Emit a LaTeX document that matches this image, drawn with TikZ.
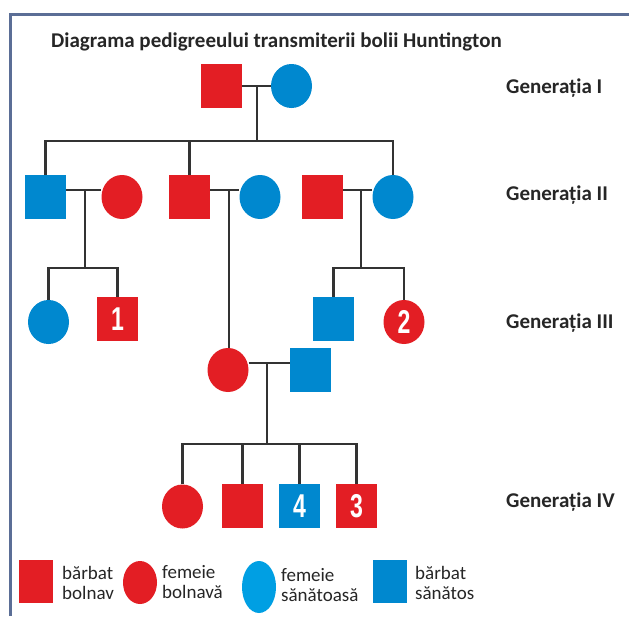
\documentclass[tikz,border=0pt]{standalone}
\usepackage{fontspec}
\setmainfont{Carlito}
\newfontfamily\numfont[FakeStretch=0.7]{Liberation Sans Bold}
\usetikzlibrary{shapes.geometric}
\definecolor{pred}{HTML}{E31E24}
\definecolor{pblue}{HTML}{0088CF}
\definecolor{lblue}{HTML}{009FE3}
\definecolor{frame}{HTML}{5B6E96}
\definecolor{ink}{HTML}{262626}
\definecolor{lnk}{HTML}{333333}
\tikzset{
  msq/.style={rectangle,minimum width=41pt,minimum height=44pt,inner sep=0pt,draw=none},
  fci/.style={ellipse,minimum width=41pt,minimum height=44pt,inner sep=0pt,draw=none},
  lsq/.style={rectangle,minimum width=34pt,minimum height=43pt,inner sep=0pt,draw=none},
  lci/.style={ellipse,minimum width=34pt,minimum height=43pt,inner sep=0pt,draw=none},
  numtxt/.style={text=white,font=\numfont\fontsize{33}{33}\selectfont},
  link/.style={draw=lnk,line width=2.5pt},
  genlab/.style={anchor=west,inner sep=0pt,text=ink,font=\bfseries\fontsize{21}{24}\selectfont},
  legtxt/.style={anchor=west,inner sep=0pt,align=left,text=ink,font=\fontsize{19}{20}\selectfont}
}
\begin{document}
\begin{tikzpicture}[x=1pt,y=-1pt]
\useasboundingbox (0,0) rectangle (629,616);
\fill[white] (0,0) rectangle (629,616);
\draw[frame,line width=3.5pt] (10.3,616) -- (10.3,14.3) -- (629,14.3);
\node[anchor=west,inner sep=0pt,text=ink,font=\bfseries\fontsize{21}{24}\selectfont] (title) at (51,42) {Diagrama pedigreeului transmiterii bolii Huntington};
% Generation I
\node[msq,fill=pred] (g1m) at (221.5,86) {};
\node[fci,fill=pblue] (g1f) at (291.5,86) {};
% Generation II
\node[msq,fill=pblue] (a1) at (45.5,197) {};
\node[fci,fill=pred] (a2) at (122,197) {};
\node[msq,fill=pred] (b1) at (189.5,197) {};
\node[fci,fill=pblue] (b2) at (260,197) {};
\node[msq,fill=pred] (c1) at (322.5,197) {};
\node[fci,fill=pblue] (c2) at (393,197) {};
% Generation III
\node[fci,fill=pblue] (d1) at (48.5,322) {};
\node[msq,fill=pred,numtxt] (d2) at (117.5,319) {1};
\node[msq,fill=pblue] (e1) at (333.5,319) {};
\node[fci,fill=pred,numtxt] (e2) at (404,322) {2};
\node[fci,fill=pred] (m1) at (228,370) {};
\node[msq,fill=pblue] (m2) at (310.5,370) {};
% Generation IV
\node[fci,fill=pred] (f1) at (182.5,506.5) {};
\node[msq,fill=pred] (f2) at (242.5,506) {};
\node[msq,fill=pblue,numtxt] (f3) at (299.5,506) {4};
\node[msq,fill=pred,numtxt] (f4) at (356.5,506) {3};
% coordinates for junctions
\coordinate (j1) at (257,86);
\coordinate (s1) at (257,141);
\coordinate (j2) at (85,190);
\coordinate (s2) at (85,268);
\coordinate (j3) at (229,190);
\coordinate (j4) at (361,190);
\coordinate (s4) at (361,268);
\coordinate (j5) at (267,363);
\coordinate (s5) at (267,444);
% lines
\draw[link] (g1m.east) -- (g1f.west);
\draw[link] (j1) -- (s1);
\draw[link] (a1.north) -- (a1.north |- s1) -- (c2.north |- s1) -- (c2.north);
\draw[link] (b1.north |- s1) -- (b1.north);
\draw[link] (a1.east |- j2) -- (a2.west |- j2);
\draw[link] (b1.east |- j3) -- (b2.west |- j3);
\draw[link] (c1.east |- j4) -- (c2.west |- j4);
\draw[link] (j2) -- (s2);
\draw[link] (d1.north) -- (d1.north |- s2) -- (d2.north |- s2) -- (d2.north);
\draw[link] (j4) -- (s4);
\draw[link] (e1.north) -- (e1.north |- s4) -- (e2.north |- s4) -- (e2.north);
\draw[link] (j3) -- (m1.north -| j3);
\draw[link] (m1.east |- j5) -- (m2.west |- j5);
\draw[link] (j5) -- (s5);
\draw[link] (f1.north) -- (f1.north |- s5) -- (f4.north |- s5) -- (f4.north);
\draw[link] (f2.north |- s5) -- (f2.north);
\draw[link] (f3.north |- s5) -- (f3.north);
% generation labels
\node[genlab] (l1) at (506,88) {Generația I};
\node[genlab] (l2) at (506,195) {Generația II};
\node[genlab] (l3) at (506,323) {Generația III};
\node[genlab] (l4) at (506,502) {Generația IV};
% legend
\node[lsq,fill=pred] (k1) at (36,581.5) {};
\node[legtxt] (k1t) at (62,583) {bărbat\\bolnav};
\node[lci,fill=pred] (k2) at (140,582.5) {};
\node[legtxt] (k2t) at (162,582) {femeie\\bolnavă};
\node[lci,fill=lblue,minimum height=52pt] (k3) at (259,587) {};
\node[legtxt] (k3t) at (281,585) {femeie\\sănătoasă};
\node[lsq,fill=pblue] (k4) at (390,581.5) {};
\node[legtxt] (k4t) at (415,583) {bărbat\\sănătos};
\end{tikzpicture}
\end{document}
